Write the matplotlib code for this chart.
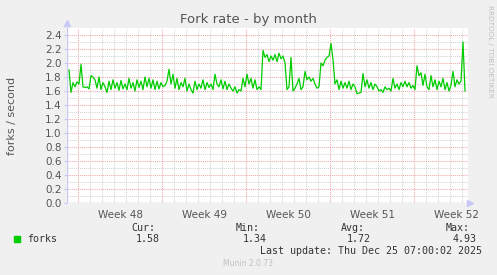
import pandas as pd
import matplotlib
matplotlib.use("Agg")
import matplotlib.pyplot as plt

# Fork rate samples, every 4 hours (forks / second)
forks = [
    1.90, 1.58, 1.72, 1.66, 1.73, 1.70,
    1.98, 1.66, 1.65, 1.66, 1.63, 1.82,
    1.80, 1.76, 1.64, 1.80, 1.62, 1.72,
    1.66, 1.58, 1.74, 1.62, 1.76, 1.64,
    1.72, 1.61, 1.75, 1.63, 1.70, 1.62,
    1.78, 1.64, 1.72, 1.60, 1.76, 1.65,
    1.74, 1.62, 1.80, 1.66, 1.78, 1.64,
    1.76, 1.62, 1.74, 1.63, 1.72, 1.66,
    1.68, 1.74, 1.91, 1.70, 1.84, 1.64,
    1.78, 1.62, 1.72, 1.66, 1.78, 1.60,
    1.70, 1.62, 1.57, 1.74, 1.62, 1.70,
    1.64, 1.76, 1.62, 1.72, 1.65, 1.70,
    1.62, 1.84, 1.70, 1.66, 1.76, 1.63,
    1.74, 1.62, 1.70, 1.64, 1.60, 1.66,
    1.57, 1.62, 1.60, 1.78, 1.66, 1.84,
    1.70, 1.78, 1.64, 1.76, 1.62, 1.66,
    1.62, 2.18, 2.08, 2.12, 2.02, 2.10,
    2.04, 2.12, 2.02, 2.14, 2.06, 2.10,
    2.00, 1.62, 1.66, 2.08, 1.60, 1.64,
    1.70, 1.78, 1.62, 1.66, 1.88, 1.76,
    1.80, 1.74, 1.78, 1.70, 1.64, 1.66,
    2.00, 1.96, 2.04, 2.08, 2.10, 2.28,
    2.05, 1.70, 1.76, 1.62, 1.74, 1.64,
    1.72, 1.64, 1.74, 1.62, 1.70, 1.66,
    1.56, 1.57, 1.58, 1.85, 1.66, 1.76,
    1.64, 1.72, 1.62, 1.70, 1.66, 1.60,
    1.62, 1.58, 1.66, 1.62, 1.64, 1.60,
    1.78, 1.64, 1.70, 1.62, 1.72, 1.66,
    1.74, 1.66, 1.72, 1.64, 1.68, 1.62,
    1.96, 1.82, 1.86, 1.68, 1.84, 1.66,
    1.62, 1.82, 1.66, 1.76, 1.62, 1.74,
    1.66, 1.78, 1.62, 1.72, 1.60, 1.68,
    1.88, 1.66, 1.76, 1.70, 1.74, 2.30,
    1.60,
]
times = pd.date_range("2025-11-22 06:00", periods=len(forks), freq="4h")

week_starts = pd.date_range("2025-11-23", "2025-12-21", freq="7D")
week_labels = ["Week 48", "Week 49", "Week 50", "Week 51", "Week 52"]
yticks = [0.0, 0.2, 0.4, 0.6, 0.8, 1.0, 1.2, 1.4, 1.6, 1.8, 2.0, 2.2, 2.4]

legend_name = "forks"
stats_labels = ["Cur:", "Min:", "Avg:", "Max:"]
stats_values = ["1.58", "1.34", "1.72", "4.93"]
last_update = "Last update: Thu Dec 25 07:00:02 2025"

x_start = pd.Timestamp("2025-11-22 02:00")
x_end = pd.Timestamp("2025-12-25 12:00")

bg = "#F0F0F0"
axis_col = "#C8C8F8"
major_col = "#F0A8A8"
minor_col = "#D4D4D4"
text_col = "#555555"
line_col = "#00CC00"

W, H = 497, 275
fig = plt.figure(figsize=(W / 100, H / 100), dpi=100, facecolor=bg)
ax = fig.add_axes([67 / W, 72 / H, (468 - 67) / W, 175 / H])
ax.set_facecolor("white")

ax.set_xlim(x_start, x_end)
ax.set_ylim(0, 2.5)

# grid: daily gray, weekly red, 0.1 gray, 0.2 red
for d in pd.date_range("2025-11-23", x_end, freq="1D"):
    if d in week_starts:
        ax.axvline(d, color=major_col, lw=0.75, ls=(0, (1, 1)), zorder=1)
    else:
        ax.axvline(d, color=minor_col, lw=0.75, ls=(0, (1, 1)), zorder=0)
for i in range(1, 25):
    v = i / 10
    c = major_col if i % 2 == 0 else minor_col
    ax.axhline(v, color=c, lw=0.75, ls=(0, (1, 1)), zorder=1 if i % 2 == 0 else 0)

ax.plot(times, forks, color=line_col, lw=0.9, zorder=3)

for s in ax.spines.values():
    s.set_visible(False)
ax.axhline(0, color=axis_col, lw=1, zorder=2)
ax.axvline(x_start, color=axis_col, lw=1, zorder=2)
# axis arrows
ax.plot([0], [1.03], marker="^", ms=4, color=axis_col, transform=ax.transAxes, clip_on=False)
ax.plot([1.006], [0], marker=">", ms=4, color=axis_col, transform=ax.transAxes, clip_on=False)

ax.set_yticks(yticks)
ax.set_yticklabels([f"{v:.1f}" for v in yticks])
mids = [w + pd.Timedelta(hours=84) for w in week_starts]
ax.set_xticks(mids)
ax.set_xticklabels(week_labels)
ax.tick_params(axis="x", length=0, pad=5, labelsize=7.5, labelcolor=text_col)
ax.tick_params(axis="y", length=2, pad=2, labelsize=7.5, labelcolor=text_col, color=axis_col)

ax.set_ylabel("forks / second", fontsize=8, color=text_col)
ax.yaxis.set_label_coords(-0.125, 0.5)

fig.text(248 / W, 1 - 19 / H, "Fork rate - by month", ha="center", va="center",
         fontsize=9.5, color=text_col)
fig.text(490 / W, 1 - 5 / H, "RRDTOOL / TOBI OETIKER", rotation=270, ha="center", va="top",
         fontsize=5.2, color="#C0C0C0")

# legend block
mono = "DejaVu Sans Mono"
fs = 7.2
fig.patches.append(plt.Rectangle((14 / W, 1 - 242 / H), 6 / W, 6 / H, color=line_col,
                                 transform=fig.transFigure, figure=fig))
fig.text(27 / W, 1 - 239 / H, legend_name, family=mono, fontsize=fs, color="#333333",
         va="center", ha="left")
label_right = [155, 260, 365, 470]
value_right = [160, 267, 371, 477]
for lab, val, lr, vr in zip(stats_labels, stats_values, label_right, value_right):
    fig.text(lr / W, 1 - 228 / H, lab, family=mono, fontsize=fs, color="#333333",
             va="center", ha="right")
    fig.text(vr / W, 1 - 239 / H, val, family=mono, fontsize=fs, color="#333333",
             va="center", ha="right")
fig.text(482 / W, 1 - 251 / H, last_update, family=mono, fontsize=fs, color="#333333",
         va="center", ha="right")
fig.text(248 / W, 1 - 264 / H, "Munin 2.0.73", fontsize=5.5, color="#C0C0C0",
         va="center", ha="center")

fig.savefig("out.png", dpi=100, facecolor=bg)
